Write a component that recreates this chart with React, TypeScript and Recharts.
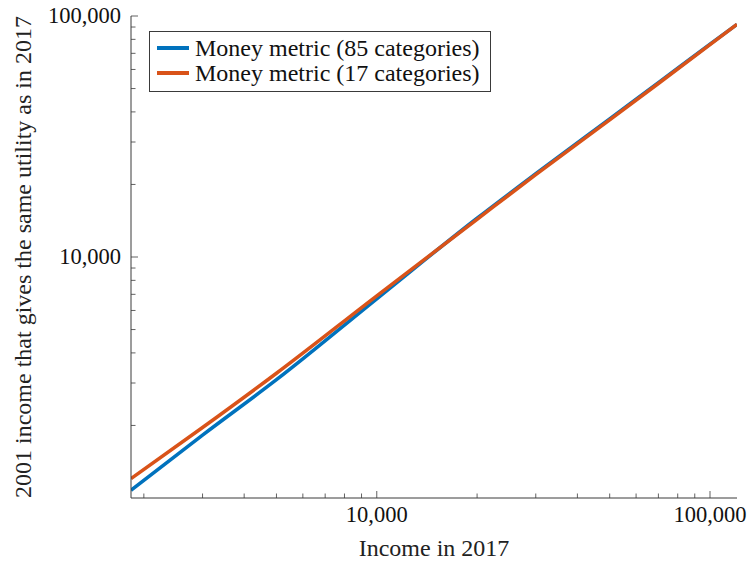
import React from "react";
import { LineChart, Line, XAxis, YAxis, Legend } from "recharts";

// incomes in 2017 (x) and the 2001 income giving the same utility (y)
const incomes = [1830, 3000, 5000, 10000, 20000, 30000, 50000, 70000, 100000, 120500];
const money85 = [1076, 1824, 3097, 6708, 14480, 22160, 37440, 52870, 76390, 92380];
const money17 = [1204, 1961, 3294, 6902, 14340, 21950, 37090, 52480, 76020, 92380];

const seriesNames = ["Money metric (85 categories)", "Money metric (17 categories)"];

const xTicks = [2000, 3000, 4000, 5000, 6000, 7000, 8000, 9000, 10000, 20000, 30000, 40000, 50000, 60000, 70000, 80000, 90000, 100000];
const yTicks = [2000, 3000, 4000, 5000, 6000, 7000, 8000, 9000, 10000, 20000, 30000, 40000, 50000, 60000, 70000, 80000, 90000, 100000];

const data = incomes.map((income, i) => ({
  income,
  m85: money85[i],
  m17: money17[i],
}));

const FONT = "'Liberation Serif', 'Times New Roman', serif";
const AXIS = "#3a3a3a";
const BLUE = "#0072BD";
const ORANGE = "#D95319";

const isMajor = (v: number) => Math.abs(Math.log10(v) - Math.round(Math.log10(v))) < 1e-9;
const fmt = (v: number) => v.toLocaleString("en-US");
const tickLen = (v: number) => (isMajor(v) ? 7 : 4.5);

const BottomTick = ({ x, y, payload }: any) => (
  <g>
    <line x1={x} x2={x} y1={y} y2={y - tickLen(payload.value)} stroke={AXIS} strokeWidth={0.8} />
    {isMajor(payload.value) && (
      <text x={x} y={y + 24} textAnchor="middle" fontFamily={FONT} fontSize={22.5} fill="#111">
        {fmt(payload.value)}
      </text>
    )}
  </g>
);

const TopTick = ({ x, y, payload }: any) => (
  <line x1={x} x2={x} y1={y} y2={y + tickLen(payload.value)} stroke={AXIS} strokeWidth={0.8} />
);

const LeftTick = ({ x, y, payload }: any) => (
  <g>
    <line x1={x} x2={x + tickLen(payload.value)} y1={y} y2={y} stroke={AXIS} strokeWidth={0.8} />
    {isMajor(payload.value) && (
      <text x={x - 10} y={y + 7.2} textAnchor="end" fontFamily={FONT} fontSize={22.5} fill="#111">
        {fmt(payload.value)}
      </text>
    )}
  </g>
);

const RightTick = ({ x, y, payload }: any) => (
  <line x1={x} x2={x - tickLen(payload.value)} y1={y} y2={y} stroke={AXIS} strokeWidth={0.8} />
);

const LegendBox = ({ payload }: any) => {
  const items = [...(payload || [])].sort(
    (a: any, b: any) => seriesNames.indexOf(a.value) - seriesNames.indexOf(b.value)
  );
  return (
    <div
      style={{
        border: `1px solid ${AXIS}`,
        background: "white",
        width: 342,
        boxSizing: "border-box",
        padding: "4px 0 5px 0",
        fontFamily: FONT,
        fontSize: 24,
        color: "#111",
      }}
    >
      {items.map((entry: any) => (
        <div key={entry.value} style={{ display: "flex", alignItems: "center", height: 25 }}>
          <div style={{ width: 32, height: 3.5, background: entry.color, marginLeft: 7, marginRight: 6 }} />
          <span style={{ lineHeight: "25px", whiteSpace: "nowrap" }}>{entry.value}</span>
        </div>
      ))}
    </div>
  );
};

export default function App() {
  return (
    <div style={{ position: "absolute", left: 0, top: 0, width: 748, height: 561, background: "white" }}>
      <LineChart width={748} height={561} data={data} margin={{ top: 16, right: 11, bottom: 0, left: 0 }}>
        <XAxis
          dataKey="income"
          type="number"
          scale="log"
          domain={[1830, 120500]}
          allowDataOverflow
          ticks={xTicks}
          interval={0}
          height={63}
          tickSize={0}
          tickMargin={0}
          tickLine={false}
          tick={<BottomTick />}
          axisLine={{ stroke: AXIS, strokeWidth: 1 }}
          label={({ viewBox }: any) => (
            <text
              x={viewBox.x + viewBox.width / 2}
              y={viewBox.y + 58}
              textAnchor="middle"
              fontFamily={FONT}
              fontSize={24}
              fill="#222"
            >
              Income in 2017
            </text>
          )}
        />
        <XAxis
          xAxisId="top"
          orientation="top"
          dataKey="income"
          type="number"
          scale="log"
          domain={[1830, 120500]}
          allowDataOverflow
          ticks={xTicks}
          interval={0}
          height={0}
          tickSize={0}
          tickMargin={0}
          tickLine={false}
          tick={<TopTick />}
          axisLine={{ stroke: AXIS, strokeWidth: 1 }}
        />
        <YAxis
          type="number"
          scale="log"
          domain={[1000, 100000]}
          allowDataOverflow
          ticks={yTicks}
          interval={0}
          width={131}
          tickSize={0}
          tickMargin={0}
          tickLine={false}
          tick={<LeftTick />}
          axisLine={{ stroke: AXIS, strokeWidth: 1 }}
          label={({ viewBox }: any) => {
            const cx = 31;
            const cy = viewBox.y + viewBox.height / 2;
            return (
              <text
                x={cx}
                y={cy}
                transform={`rotate(-90 ${cx} ${cy})`}
                textAnchor="middle"
                fontFamily={FONT}
                fontSize={24}
                fill="#222"
              >
                2001 income that gives the same utility as in 2017
              </text>
            );
          }}
        />
        <YAxis
          yAxisId="right"
          orientation="right"
          type="number"
          scale="log"
          domain={[1000, 100000]}
          allowDataOverflow
          ticks={yTicks}
          interval={0}
          width={0}
          tickSize={0}
          tickMargin={0}
          tickLine={false}
          tick={<RightTick />}
          axisLine={{ stroke: AXIS, strokeWidth: 1 }}
        />
        <Legend
          layout="vertical"
          verticalAlign="middle"
          align="center"
          content={<LegendBox />}
          wrapperStyle={{ top: 30.7, left: 149, width: 342 }}
        />
        <Line
          type="monotone"
          dataKey="m85"
          name={seriesNames[0]}
          stroke={BLUE}
          strokeWidth={3.5}
          dot={false}
          isAnimationActive={false}
        />
        <Line
          type="monotone"
          dataKey="m17"
          name={seriesNames[1]}
          stroke={ORANGE}
          strokeWidth={3.5}
          dot={false}
          isAnimationActive={false}
        />
      </LineChart>
    </div>
  );
}
